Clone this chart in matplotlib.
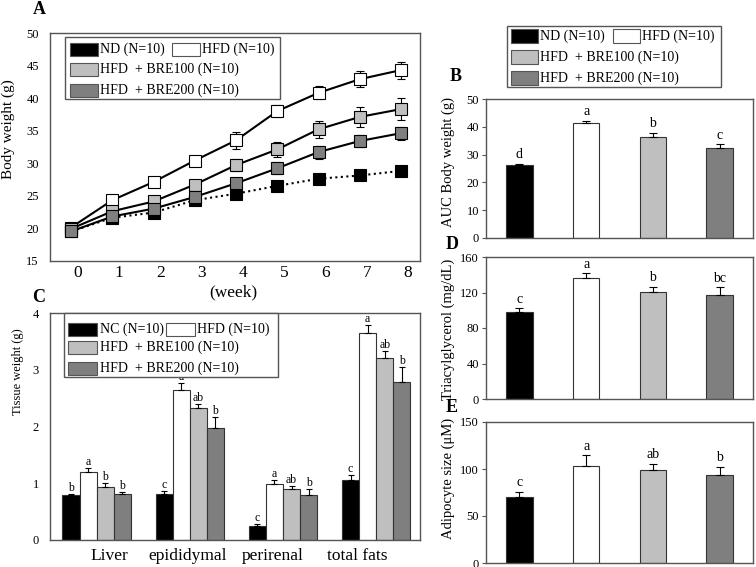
import numpy as np
import matplotlib
matplotlib.use("Agg")
import matplotlib.pyplot as plt
import matplotlib.transforms as mtransforms
from matplotlib.patches import Rectangle

plt.rcParams['font.family'] = ['Liberation Serif', 'DejaVu Serif']

W, H = 756, 567

# ---- data ----
group_colors = ['#000000', '#ffffff', '#bfbfbf', '#7f7f7f']

weeks = [0, 1, 2, 3, 4, 5, 6, 7, 8]
nd_bw = [19.5, 21.6, 22.4, 24.3, 25.3, 26.5, 27.6, 28.1, 28.8]
nd_bw_err = [0.3, 0.3, 0.3, 0.3, 0.4, 0.3, 0.3, 0.3, 0.3]
hfd_bw = [20.1, 24.3, 27.1, 30.4, 33.5, 38.0, 40.8, 42.9, 44.3]
hfd_bw_err = [0.3, 0.4, 0.4, 0.4, 1.3, 0.9, 1.0, 1.2, 1.3]
bre100_bw = [19.9, 22.6, 24.1, 26.7, 29.7, 32.1, 35.2, 37.1, 38.3]
bre100_bw_err = [0.3, 0.4, 0.5, 0.5, 0.9, 1.2, 1.3, 1.5, 1.7]
bre200_bw = [19.5, 21.8, 23.0, 24.8, 26.9, 29.2, 31.7, 33.4, 34.6]
bre200_bw_err = [0.3, 0.4, 0.5, 0.5, 0.6, 0.9, 1.0, 0.9, 1.0]

tissues = ['Liver', 'epididymal', 'perirenal', 'total fats']
tissue_nc = [0.79, 0.81, 0.25, 1.06]
tissue_nc_err = [0.02, 0.06, 0.03, 0.08]
tissue_hfd = [1.19, 2.64, 0.99, 3.64]
tissue_hfd_err = [0.07, 0.12, 0.06, 0.15]
tissue_bre100 = [0.94, 2.32, 0.89, 3.21]
tissue_bre100_err = [0.06, 0.08, 0.06, 0.12]
tissue_bre200 = [0.81, 1.97, 0.80, 2.78]
tissue_bre200_err = [0.035, 0.20, 0.09, 0.26]
tissue_letters = [['b', 'c', 'c', 'c'],
                  ['a', 'a', 'a', 'a'],
                  ['b', 'ab', 'ab', 'ab'],
                  ['b', 'b', 'b', 'b']]

auc_bw = [26.4, 41.2, 36.4, 32.4]
auc_bw_err = [0.3, 0.9, 1.5, 1.3]
auc_letters = ['d', 'a', 'b', 'c']

tg = [97.7, 136.6, 120.4, 117.0]
tg_err = [4.5, 5.0, 5.7, 8.7]
tg_letters = ['c', 'a', 'b', 'bc']

adipo = [70.5, 103.5, 98.9, 93.6]
adipo_err = [5.3, 11.0, 6.3, 8.9]
adipo_letters = ['c', 'a', 'ab', 'b']

legend_nd = ['ND (N=10)', 'HFD (N=10)', 'HFD  + BRE100 (N=10)', 'HFD  + BRE200 (N=10)']
legend_nc = ['NC (N=10)', 'HFD (N=10)', 'HFD  + BRE100 (N=10)', 'HFD  + BRE200 (N=10)']

# ---- helpers ----
SPINE = '#555555'
EDGE = '#333333'


def px_axes(fig, left, top, right, bottom):
    return fig.add_axes([left / W, 1 - bottom / H, (right - left) / W, (bottom - top) / H])


def style_axes(ax, tick_fs=9, ylen=3, ypad=2):
    for s in ax.spines.values():
        s.set_color(SPINE)
        s.set_linewidth(1.0)
    ax.tick_params(axis='y', direction='out', length=ylen, width=0.8, color=SPINE,
                   labelsize=tick_fs, pad=ypad)
    ax.tick_params(axis='x', length=0)


def draw_key(fig, box, rows, patch_x, white_x, pw, ph, labels, fs=10):
    x0, y0, x1, y1 = box
    fig.add_artist(Rectangle((x0 / W, 1 - y1 / H), (x1 - x0) / W, (y1 - y0) / H,
                             transform=fig.transFigure, facecolor='white',
                             edgecolor=SPINE, lw=1.0, zorder=10))
    spots = [(patch_x, rows[0]), (white_x, rows[0]), (patch_x, rows[1]), (patch_x, rows[2])]
    for (px, py), c, lab in zip(spots, group_colors, labels):
        fig.add_artist(Rectangle((px / W, 1 - (py + ph / 2) / H), pw / W, ph / H,
                                 transform=fig.transFigure, facecolor=c,
                                 edgecolor=SPINE, lw=0.8, zorder=11))
        fig.text((px + pw + 2.5) / W, 1 - py / H, lab, fontsize=fs,
                 ha='left', va='center', zorder=12)


def bar_panel(ax, vals, errs, letters, ylim, yticks, ylabel, label_fs=10.5, label_y=0.5):
    x = np.arange(len(vals))
    ax.bar(x, vals, width=0.4, color=group_colors, edgecolor=EDGE, lw=0.8,
           yerr=[np.zeros(len(errs)), errs], capsize=3,
           error_kw=dict(elinewidth=0.8, capthick=0.8, ecolor='black'))
    for xi, v, e, lab in zip(x, vals, errs, letters):
        ax.annotate(lab, (xi, v + e), xytext=(0, 2), textcoords='offset points',
                    ha='center', va='bottom', fontsize=10)
    ax.set_xlim(-0.5, 3.5)
    ax.set_ylim(*ylim)
    ax.set_yticks(yticks)
    ax.set_xticks([])
    style_axes(ax)
    ax.set_ylabel(ylabel, fontsize=label_fs, va='center')
    ax.yaxis.set_label_coords((448 - 486) / 267, label_y)


fig = plt.figure(figsize=(W / 100, H / 100), dpi=100)

# ---- A: body weight ----
axA = px_axes(fig, 50, 33, 420, 260.7)
series = [(nd_bw, nd_bw_err, ':'), (hfd_bw, hfd_bw_err, '-'),
          (bre100_bw, bre100_bw_err, '-'), (bre200_bw, bre200_bw_err, '-')]
for (vals, errs, ls), c in zip(series, group_colors):
    axA.errorbar(weeks, vals, yerr=errs, ls=ls, color='black', lw=1.5,
                 marker='s', ms=8, mfc=c, mec='black', mew=0.8,
                 capsize=3, elinewidth=0.8, capthick=0.8)
axA.set_xlim(-0.51, 8.46)
axA.set_ylim(15, 50)
axA.set_yticks([15, 20, 25, 30, 35, 40, 45, 50])
axA.set_xticks(weeks)
style_axes(axA, ylen=0, ypad=8)
axA.tick_params(axis='x', labelsize=12.5, pad=3)
shift = mtransforms.ScaledTranslation(0.07, 0, fig.dpi_scale_trans)
for lab in axA.get_xticklabels():
    lab.set_transform(lab.get_transform() + shift)
axA.set_ylabel('Body weight (g)', fontsize=11, va='center')
axA.yaxis.set_label_coords((8 - 50) / 370, 0.578)
fig.text(233 / W, 1 - 292 / H, '(week)', fontsize=12.5, ha='center', va='center')
draw_key(fig, (65, 37, 280, 99), (49.5, 69.5, 90), 70, 172, 28, 13, legend_nd)

# ---- C: tissue weight ----
axC = px_axes(fig, 50, 313, 420, 540)
bw = 0.183
xg = np.arange(len(tissues))
groups = [(tissue_nc, tissue_nc_err), (tissue_hfd, tissue_hfd_err),
          (tissue_bre100, tissue_bre100_err), (tissue_bre200, tissue_bre200_err)]
for i, ((vals, errs), c) in enumerate(zip(groups, group_colors)):
    xs = xg + (i - 1.5) * bw
    axC.bar(xs, vals, width=bw, color=c, edgecolor=EDGE, lw=0.8,
            yerr=[np.zeros(len(errs)), errs], capsize=2.5,
            error_kw=dict(elinewidth=0.8, capthick=0.8, ecolor='black'))
    for xi, v, e, lab in zip(xs, vals, errs, tissue_letters[i]):
        axC.annotate(lab, (xi, v + e), xytext=(0, 0), textcoords='offset points',
                     ha='center', va='bottom', fontsize=8.5)
axC.set_xlim(-0.5, 3.47)
axC.set_ylim(0, 4)
axC.set_yticks([0, 1, 2, 3, 4])
label_pos = [0.14, 0.98, 1.89, 2.80]
axC.set_xticks(label_pos)
axC.set_xticklabels(tissues)
style_axes(axC, ylen=0, ypad=8)
axC.tick_params(axis='x', labelsize=12.5, pad=6)
axC.set_ylabel('Tissue weight (g)', fontsize=9, va='center')
axC.yaxis.set_label_coords((18 - 50) / 370, 0.74)
draw_key(fig, (64, 313, 278, 377), (329, 347, 368), 68, 166, 29, 13, legend_nc)

# ---- B, D, E ----
axB = px_axes(fig, 486, 99, 753, 238)
bar_panel(axB, auc_bw, auc_bw_err, auc_letters, (0, 50), [0, 10, 20, 30, 40, 50],
          'AUC Body weight (g)', label_y=0.55)
axD = px_axes(fig, 486, 257, 753, 399)
bar_panel(axD, tg, tg_err, tg_letters, (0, 160), [0, 40, 80, 120, 160],
          'Triacylglycerol (mg/dL)', label_fs=10.5, label_y=0.49)
axE = px_axes(fig, 486, 422, 753, 563)
bar_panel(axE, adipo, adipo_err, adipo_letters, (0, 150), [0, 50, 100, 150],
          'Adipocyte size (\u03bcM)', label_y=0.6)
draw_key(fig, (507, 26, 721, 87), (36, 57, 78), 511, 613, 27, 14, legend_nd)

# panel letters
for txt, x, y in [('A', 39, 10), ('B', 456, 77), ('C', 39, 298), ('D', 452, 245), ('E', 452, 408)]:
    fig.text(x / W, 1 - y / H, txt, fontsize=13, fontweight='bold', ha='center', va='center')

fig.savefig('out.png', dpi=100)
